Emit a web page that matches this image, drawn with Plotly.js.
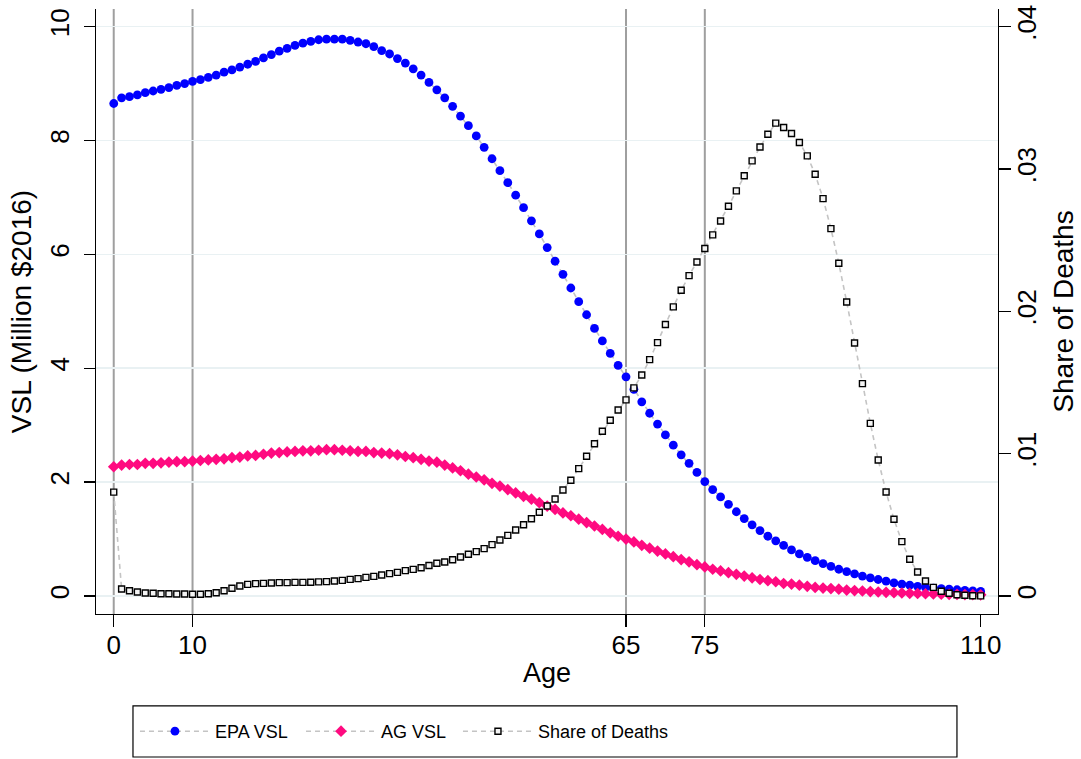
<!DOCTYPE html>
<html>
<head>
<meta charset="utf-8">
<script src="https://cdn.plot.ly/plotly-3.0.1.min.js"></script>
<style>
  html, body { margin: 0; padding: 0; background: #ffffff; }
  #chart { width: 1081px; height: 759px; }
</style>
</head>
<body>
<div id="chart"></div>
<script>
// Ages 0..110
const ages = [];
for (let a = 0; a <= 110; a++) ages.push(a);

// EPA value of a statistical life by age (million 2016 dollars)
const epaVsl = [
  8.65, 8.75, 8.77, 8.80, 8.84, 8.87, 8.90, 8.93, 8.97, 9.00,
  9.04, 9.07, 9.11, 9.15, 9.20, 9.24, 9.29, 9.34, 9.39, 9.45,
  9.51, 9.57, 9.62, 9.67, 9.71, 9.74, 9.77, 9.78, 9.78, 9.78,
  9.76, 9.73, 9.70, 9.65, 9.58, 9.52, 9.44, 9.36, 9.26, 9.15,
  9.02, 8.89, 8.75, 8.60, 8.43, 8.26, 8.08, 7.88, 7.68, 7.47,
  7.26, 7.04, 6.82, 6.59, 6.36, 6.12, 5.88, 5.65, 5.41, 5.17,
  4.94, 4.70, 4.48, 4.26, 4.05, 3.85, 3.63, 3.41, 3.21, 3.02,
  2.83, 2.65, 2.48, 2.33, 2.17, 2.01, 1.87, 1.74, 1.61, 1.48,
  1.36, 1.25, 1.15, 1.05, 0.97, 0.89, 0.81, 0.74, 0.68, 0.62,
  0.57, 0.52, 0.47, 0.43, 0.39, 0.35, 0.32, 0.29, 0.26, 0.23,
  0.21, 0.19, 0.17, 0.15, 0.14, 0.13, 0.12, 0.11, 0.10, 0.09,
  0.08
];

// Age-graded value of a statistical life (million 2016 dollars)
const agVsl = [
  2.27, 2.30, 2.31, 2.31, 2.33, 2.33, 2.34, 2.35, 2.36, 2.36,
  2.37, 2.38, 2.39, 2.40, 2.41, 2.43, 2.44, 2.46, 2.47, 2.49,
  2.51, 2.52, 2.53, 2.54, 2.55, 2.55, 2.56, 2.57, 2.57, 2.56,
  2.55, 2.54, 2.54, 2.52, 2.51, 2.50, 2.48, 2.45, 2.43, 2.40,
  2.37, 2.35, 2.30, 2.25, 2.20, 2.14, 2.09, 2.04, 1.98, 1.93,
  1.87, 1.81, 1.75, 1.70, 1.64, 1.58, 1.52, 1.46, 1.41, 1.35,
  1.29, 1.23, 1.17, 1.11, 1.05, 1.00, 0.95, 0.89, 0.84, 0.79,
  0.74, 0.69, 0.64, 0.60, 0.55, 0.51, 0.47, 0.44, 0.41, 0.38,
  0.35, 0.32, 0.29, 0.27, 0.25, 0.22, 0.21, 0.19, 0.17, 0.15,
  0.14, 0.13, 0.12, 0.105, 0.095, 0.088, 0.078, 0.070, 0.064, 0.058,
  0.053, 0.048, 0.044, 0.040, 0.036, 0.033, 0.030, 0.027, 0.025, 0.023,
  0.021
];

// Share of all deaths occurring at each age
const deathShare = [
  0.0073, 0.00049, 0.00037, 0.00028, 0.00021, 0.00019, 0.00016, 0.00016, 0.00014, 0.00014,
  0.00012, 0.00012, 0.00016, 0.00023, 0.00037, 0.00054, 0.00070, 0.00082, 0.00087, 0.00089,
  0.00091, 0.00094, 0.00094, 0.00096, 0.00096, 0.00097, 0.00099, 0.00101, 0.00105, 0.00110,
  0.00117, 0.00122, 0.00131, 0.00138, 0.00148, 0.00157, 0.00166, 0.00178, 0.00187, 0.00199,
  0.00214, 0.00230, 0.00239, 0.00255, 0.00274, 0.00293, 0.00312, 0.00333, 0.00361, 0.00394,
  0.00426, 0.00464, 0.00501, 0.00543, 0.00588, 0.00632, 0.00682, 0.00745, 0.00813, 0.00895,
  0.00982, 0.01070, 0.01157, 0.01235, 0.01307, 0.01378, 0.01462, 0.01553, 0.01661, 0.01780,
  0.01907, 0.02031, 0.02148, 0.02251, 0.02347, 0.02441, 0.02537, 0.02635, 0.02738, 0.02846,
  0.02952, 0.03057, 0.03155, 0.03244, 0.03322, 0.03291, 0.03249, 0.03186, 0.03092, 0.02963,
  0.02792, 0.02581, 0.02338, 0.02066, 0.01778, 0.01492, 0.01213, 0.00956, 0.00731, 0.00539,
  0.00382, 0.00258, 0.00169, 0.00105, 0.00061, 0.00033, 0.00019, 0.00009, 0.00005, 0.00002,
  0.00001
];

// Axis ticks and reference ages
const ageTicks = [0, 10, 65, 75, 110];
const markerAges = [0, 10, 65, 75];
const vslTicks = [0, 2, 4, 6, 8, 10];
const shareTicks = [0, 0.01, 0.02, 0.03, 0.04];
const shareTickText = ['0', '.01', '.02', '.03', '.04'];

const FONT = 'Liberation Sans, Arial, Helvetica, sans-serif';
const connector = { color: '#c4c4c4', width: 1.6, dash: '5px,4px' };

const traces = [
  {
    x: ages, y: epaVsl, name: 'EPA VSL', type: 'scatter', mode: 'lines+markers',
    line: connector,
    marker: { symbol: 'circle', size: 8.8, color: '#0000ff', line: { width: 0 } },
    yaxis: 'y', legend: 'legend'
  },
  {
    x: ages, y: agVsl, name: 'AG VSL', type: 'scatter', mode: 'lines+markers',
    line: connector,
    marker: { symbol: 'diamond', size: 9, color: '#ff0a80', line: { width: 0 } },
    yaxis: 'y', legend: 'legend2'
  },
  {
    x: ages, y: deathShare, name: 'Share of Deaths', type: 'scatter', mode: 'lines+markers',
    line: connector,
    marker: { symbol: 'square', size: 6, color: '#f4f4f4', line: { color: '#000000', width: 1.4 } },
    yaxis: 'y2', legend: 'legend3'
  }
];

// Vertical reference lines at the marked ages
const shapes = markerAges.map(a => ({
  type: 'line', xref: 'x', yref: 'paper', x0: a, x1: a, y0: 0, y1: 1,
  line: { color: '#9f9f9f', width: 2 }, layer: 'below'
}));

// Frame around the legend row
shapes.push({
  type: 'rect', xref: 'paper', yref: 'paper',
  x0: 0.041, x1: 0.9545, y0: -0.2364, y1: -0.152,
  line: { color: '#000000', width: 1.2 }, fillcolor: 'rgba(0,0,0,0)', layer: 'above'
});

// One legend per series, laid out along a single row
function legendAt(x) {
  return {
    orientation: 'h', x: x, xanchor: 'left', y: -0.1636, yanchor: 'top',
    borderwidth: 0, bgcolor: 'rgba(255,255,255,0)',
    font: { family: 'Liberation Sans Narrow, Arial Narrow, ' + FONT, size: 18 },
    itemwidth: 70, itemclick: false
  };
}

const layout = {
  width: 1081, height: 759,
  margin: { l: 96, r: 83, t: 9, b: 145 },
  paper_bgcolor: '#ffffff', plot_bgcolor: '#ffffff',
  font: { family: FONT, color: '#000000', size: 26 },
  showlegend: true,
  xaxis: {
    range: [-2.25, 112.2],
    tickmode: 'array', tickvals: ageTicks, ticktext: ageTicks.map(String),
    ticks: 'outside', ticklen: 12, tickwidth: 1.3, tickcolor: '#000000',
    ticklabelstandoff: -5,
    showline: true, linecolor: '#000000', linewidth: 1.3, mirror: false,
    showgrid: false, zeroline: false,
    tickfont: { size: 26, family: FONT },
    title: { text: 'Age', font: { size: 27, family: FONT }, standoff: 4 }
  },
  yaxis: {
    range: [-0.316, 10.31],
    tickmode: 'array', tickvals: vslTicks, ticktext: vslTicks.map(String),
    tickangle: -90,
    ticks: 'outside', ticklen: 11, tickwidth: 1.3, tickcolor: '#000000',
    ticklabelstandoff: 4,
    showline: true, linecolor: '#000000', linewidth: 1.3,
    showgrid: true, gridcolor: '#e9f1f3', gridwidth: 1.6, zeroline: false,
    tickfont: { size: 26, family: FONT },
    title: { text: 'VSL (Million $2016)', font: { size: 28, family: FONT }, standoff: 5 }
  },
  yaxis2: {
    range: [-0.001264, 0.04124],
    overlaying: 'y', side: 'right',
    tickmode: 'array', tickvals: shareTicks, ticktext: shareTickText,
    tickangle: -90,
    ticks: 'outside', ticklen: 12, tickwidth: 1.3, tickcolor: '#000000',
    ticklabelstandoff: -7,
    showline: true, linecolor: '#000000', linewidth: 1.3,
    showgrid: false, zeroline: false,
    tickfont: { size: 26, family: FONT },
    title: { text: 'Share of Deaths', font: { size: 28, family: FONT }, standoff: 13 }
  },
  legend: legendAt(0.0432),
  legend2: legendAt(0.2273),
  legend3: legendAt(0.4013),
  shapes: shapes
};

Plotly.newPlot('chart', traces, layout, { staticPlot: true, displayModeBar: false });
</script>
</body>
</html>
